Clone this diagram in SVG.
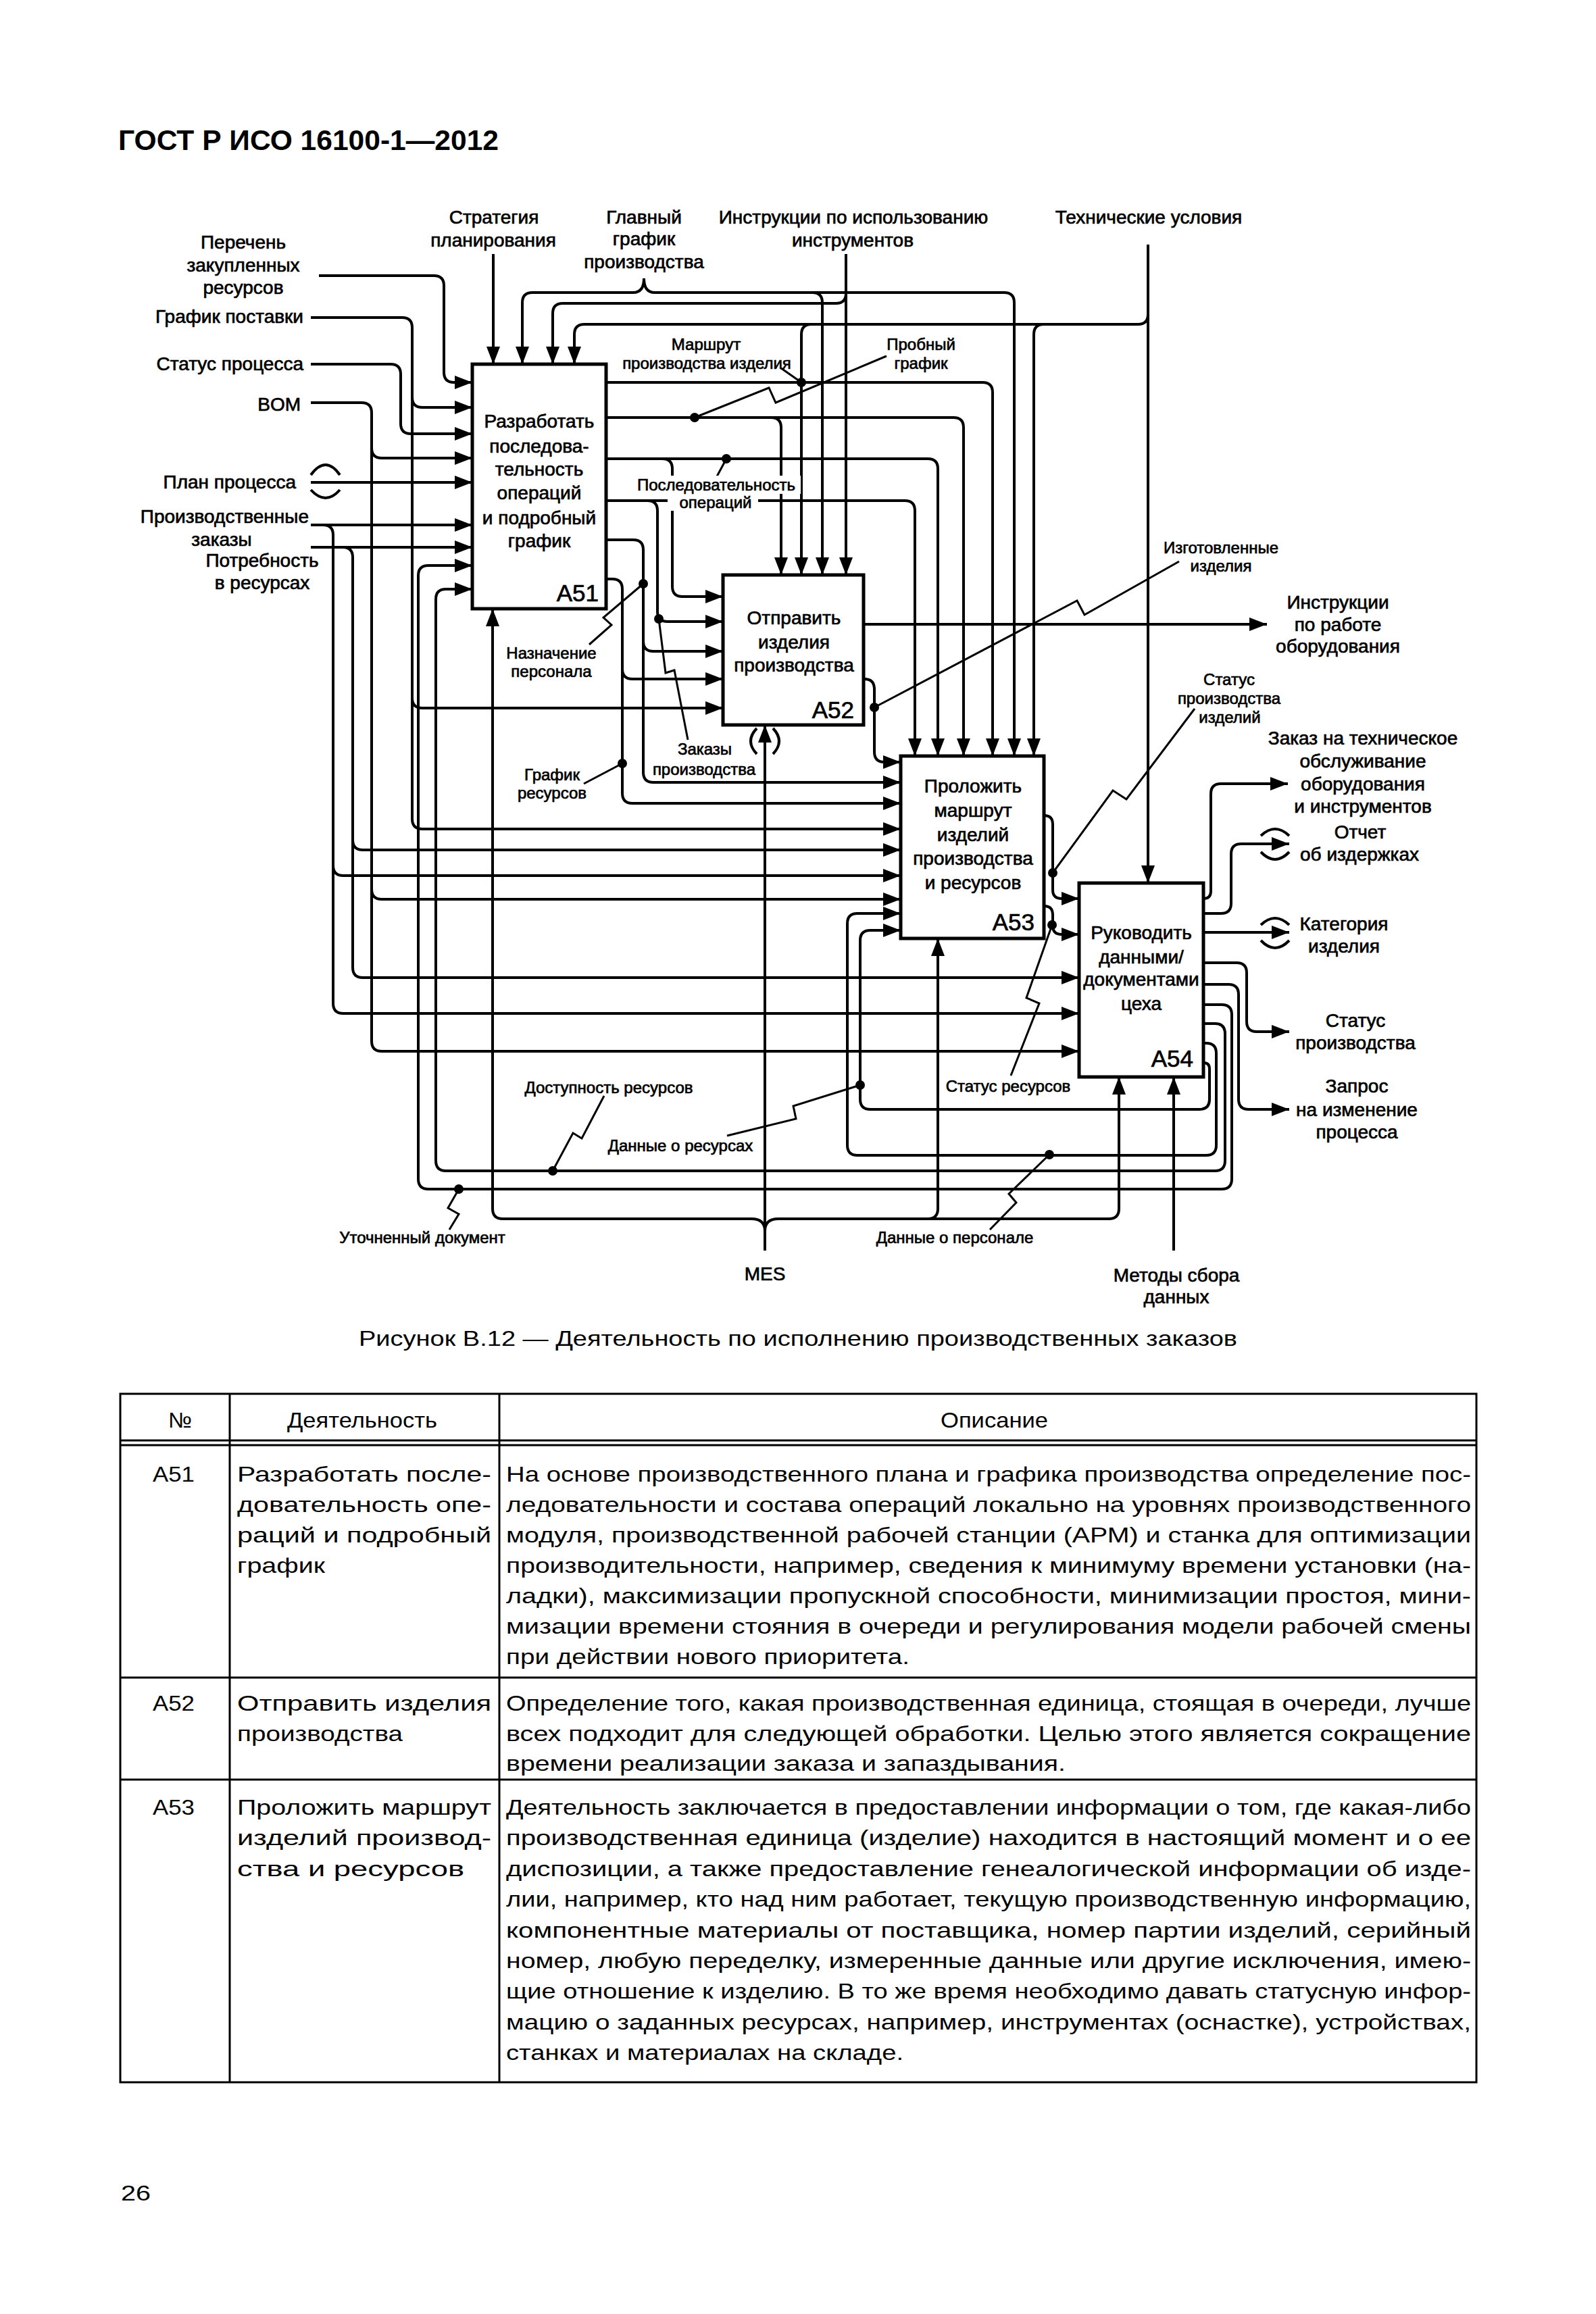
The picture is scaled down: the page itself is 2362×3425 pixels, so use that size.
<svg xmlns="http://www.w3.org/2000/svg" width="2362" height="3425" viewBox="0 0 2362 3425">
<style>
.ln{fill:none;stroke:#000;stroke-width:4}
.ar{marker-end:url(#ah)}
.ld{fill:none;stroke:#000;stroke-width:3}
.box{fill:#fff;stroke:#000;stroke-width:5}
.t{font-family:"Liberation Sans",Arial,sans-serif;fill:#000}
.d{stroke:#000;stroke-width:0.7}
.big{font-size:28px}
.sm{font-size:24px}
.id{font-size:35px}
.tt{font-size:32px}
.c{text-anchor:middle}
.e{text-anchor:end}
.tl{fill:none;stroke:#000;stroke-width:3}
</style>
<defs>
<marker id="ah" markerUnits="userSpaceOnUse" markerWidth="26" markerHeight="20" refX="26" refY="10" orient="auto" viewBox="0 0 26 20"><path d="M0,0 L26,10 L0,20 z" fill="#000"/></marker>
</defs>
<rect x="0" y="0" width="2362" height="3425" fill="#fff"/>
<text class="t" x="175" y="222" font-size="42" font-weight="bold" textLength="563" lengthAdjust="spacingAndGlyphs">ГОСТ Р ИСО 16100-1—2012</text>

<g id="connectors">
<path class="ln ar" d="M472,408 H642 Q657,408 657,423 V551 Q657,566 672,566 H699"/>
<path class="ln ar" d="M460,470 H595 Q610,470 610,485 V588 Q610,603 625,603 H699"/>
<path class="ln ar" d="M610,588 V1033 Q610,1048 625,1048 H1070"/>
<path class="ln ar" d="M610,1033 V1212 Q610,1227 625,1227 H1333"/>
<path class="ln ar" d="M460,539 H578 Q593,539 593,554 V627 Q593,642 608,642 H699"/>
<path class="ln ar" d="M460,596 H535 Q550,596 550,611 V663 Q550,678 565,678 H699"/>
<path class="ln ar" d="M550,663 V1316 Q550,1331 565,1331 H1333"/>
<path class="ln ar" d="M550,1316 V1541 Q550,1556 565,1556 H1597"/>
<path class="ln ar" d="M460,714 H699"/>
<path class="ln ar" d="M460,777 H699"/>
<path class="ln ar" d="M478,777 Q493,777 493,792 V1281 Q493,1296 508,1296 H1333"/>
<path class="ln ar" d="M493,1281 V1485 Q493,1500 508,1500 H1597"/>
<path class="ln ar" d="M460,810 H699"/>
<path class="ln ar" d="M507,810 Q522,810 522,825 V1243 Q522,1258 537,1258 H1333"/>
<path class="ln ar" d="M522,1243 V1432 Q522,1447 537,1447 H1597"/>
<path class="ln ar" d="M1781,1487 H1808 Q1823,1487 1823,1502 V1745 Q1823,1760 1808,1760 H634 Q619,1760 619,1745 V852 Q619,837 634,837 H699"/>
<path class="ln ar" d="M1781,1515 H1798 Q1813,1515 1813,1530 V1718 Q1813,1733 1798,1733 H660 Q645,1733 645,1718 V887 Q645,872 660,872 H699"/>
<path class="ln ar" d="M730,376 V539"/>
<path class="ln ar" d="M937,433 H788 Q773,433 773,448 V539"/>
<path class="ln ar" d="M969,433 H1202 Q1217,433 1217,448 V851"/>
<path class="ln ar" d="M1202,433 H1486 Q1501,433 1501,448 V1119"/>
<path class="ln" d="M937,433 Q953,433 953,412 Q953,433 969,433"/>
<path class="ln ar" d="M1252,376 V851"/>
<path class="ln ar" d="M1252,434 Q1252,449 1237,449 H833 Q818,449 818,464 V539"/>
<path class="ln ar" d="M1699,362 V1307"/>
<path class="ln ar" d="M1699,465 Q1699,480 1684,480 H865 Q850,480 850,495 V539"/>
<path class="ln ar" d="M1545,480 Q1530,480 1530,495 V1119"/>
<path class="ln ar" d="M1201,480 Q1186,480 1186,495 V851"/>
<path class="ln ar" d="M897,566 H1454 Q1469,566 1469,581 V1119"/>
<path class="ln ar" d="M897,618 H1411 Q1426,618 1426,633 V1119"/>
<path class="ln ar" d="M1141,618 Q1156,618 1156,633 V851"/>
<path class="ln ar" d="M897,679 H1373 Q1388,679 1388,694 V1119"/>
<path class="ln ar" d="M980,679 Q995,679 995,694 V868 Q995,883 1010,883 H1070"/>
<path class="ln ar" d="M897,741 H1339 Q1354,741 1354,756 V1119"/>
<path class="ln ar" d="M958,741 Q973,741 973,756 V905 Q973,920 988,920 H1070"/>
<path class="ln ar" d="M897,799 H937 Q952,799 952,814 V949 Q952,964 967,964 H1070"/>
<path class="ln ar" d="M952,949 V1143 Q952,1158 967,1158 H1333"/>
<path class="ln ar" d="M897,857 H906 Q921,857 921,872 V990 Q921,1005 936,1005 H1070"/>
<path class="ln ar" d="M921,990 V1174 Q921,1189 936,1189 H1333"/>
<path class="ln ar" d="M1278,924 H1875"/>
<path class="ln ar" d="M1278,1005 H1279 Q1294,1005 1294,1020 V1113 Q1294,1128 1309,1128 H1333"/>
<path class="ln ar" d="M1545,1207 Q1558,1207 1558,1220 V1317 Q1558,1330 1571,1330 H1597"/>
<path class="ln ar" d="M1545,1341 Q1558,1341 1558,1354 V1370 Q1558,1383 1571,1383 H1597"/>
<path class="ln ar" d="M1781,1330 Q1792,1330 1792,1319 V1175 Q1792,1160 1807,1160 H1906"/>
<path class="ln ar" d="M1781,1352 H1807 Q1822,1352 1822,1337 V1264 Q1822,1249 1837,1249 H1908"/>
<path class="ln ar" d="M1781,1380 H1908"/>
<path class="ln ar" d="M1781,1425 H1830 Q1845,1425 1845,1440 V1512 Q1845,1527 1860,1527 H1908"/>
<path class="ln ar" d="M1781,1457 H1818 Q1833,1457 1833,1472 V1627 Q1833,1642 1848,1642 H1908"/>
<path class="ln ar" d="M1781,1544 H1785 Q1800,1544 1800,1559 V1695 Q1800,1710 1785,1710 H1269 Q1254,1710 1254,1695 V1367 Q1254,1352 1269,1352 H1333"/>
<path class="ln ar" d="M1781,1573 Q1790,1573 1790,1582 V1627 Q1790,1642 1775,1642 H1288 Q1273,1642 1273,1627 V1392 Q1273,1377 1288,1377 H1333"/>
<path class="ln ar" d="M1132,1851 V1073"/>
<path class="ln ar" d="M1112,1804 H744 Q729,1804 729,1789 V901"/>
<path class="ln ar" d="M1152,1804 H1641 Q1656,1804 1656,1789 V1594"/>
<path class="ln ar" d="M1373,1804 Q1388,1804 1388,1789 V1389"/>
<path class="ln" d="M1112,1804 Q1132,1804 1132,1822 Q1132,1804 1152,1804"/>
<path class="ln ar" d="M1737,1851 V1594"/>
<!-- tunnels -->
<path class="ln" d="M460,703 Q482,673 503,703 M460,725 Q482,749 503,725"/>
<path class="ln" d="M1120,1078 Q1102,1097 1120,1116 M1144,1078 Q1162,1097 1144,1116"/>
<path class="ln" d="M1866,1237 Q1887,1217 1908,1237 M1866,1261 Q1887,1283 1908,1261"/>
<path class="ln" d="M1866,1369 Q1887,1349 1908,1369 M1866,1392 Q1887,1414 1908,1392"/>
<!-- leaders -->
<path class="ld" d="M1156,545 L1186,566"/>
<path class="ld" d="M1312,527 L1148,596 L1138,574 L1028,618"/>
<path class="ld" d="M1075,679 L1061,705"/>
<path class="ld" d="M872,954 L905,925 L893,914 L952,864"/>
<path class="ld" d="M864,1160 L921,1130"/>
<path class="ld" d="M975,916 L985,996 L998,992 L1018,1095"/>
<path class="ld" d="M1294,1047 L1594,889 L1605,910 L1745,831"/>
<path class="ld" d="M1768,1049 L1667,1183 L1647,1170 L1558,1292"/>
<path class="ld" d="M1557,1369 L1519,1477 L1538,1485 L1496,1592"/>
<path class="ld" d="M1273,1606 L1174,1637 L1178,1656 L1076,1681"/>
<path class="ld" d="M1553,1709 L1493,1767 L1504,1780 L1465,1820"/>
<path class="ld" d="M818,1733 L848,1677 L861,1685 L894,1622"/>
<path class="ld" d="M679,1760 L663,1788 L679,1797 L665,1820"/>
<g fill="#000">
<circle cx="1186" cy="566" r="7"/><circle cx="1028" cy="618" r="7"/><circle cx="1075" cy="679" r="7"/>
<circle cx="952" cy="864" r="7"/><circle cx="921" cy="1130" r="7"/><circle cx="975" cy="916" r="7"/>
<circle cx="1294" cy="1047" r="7"/><circle cx="1558" cy="1292" r="7"/><circle cx="1557" cy="1369" r="7"/>
<circle cx="1273" cy="1606" r="7"/><circle cx="1553" cy="1709" r="7"/><circle cx="818" cy="1733" r="7"/>
<circle cx="679" cy="1760" r="7"/>
</g>
</g>

<g id="A51">
<rect class="box" x="699" y="539" width="198" height="362"/>
<text class="t d big c" x="798" y="633">Разработать</text>
<text class="t d big c" x="798" y="670">последова-</text>
<text class="t d big c" x="798" y="704">тельность</text>
<text class="t d big c" x="798" y="739">операций</text>
<text class="t d big c" x="798" y="776">и подробный</text>
<text class="t d big c" x="798" y="810">график</text>
<text class="t d id e" x="886" y="890">A51</text>
</g>
<g id="A52">
<rect class="box" x="1070" y="851" width="208" height="222"/>
<text class="t d big c" x="1175" y="924">Отправить</text>
<text class="t d big c" x="1175" y="960">изделия</text>
<text class="t d big c" x="1175" y="994">производства</text>
<text class="t d id e" x="1264" y="1063">A52</text>
</g>
<g id="A53">
<rect class="box" x="1333" y="1119" width="212" height="270"/>
<text class="t d big c" x="1440" y="1173">Проложить</text>
<text class="t d big c" x="1440" y="1209">маршрут</text>
<text class="t d big c" x="1440" y="1245">изделий</text>
<text class="t d big c" x="1440" y="1280">производства</text>
<text class="t d big c" x="1440" y="1316">и ресурсов</text>
<text class="t d id e" x="1531" y="1377">A53</text>
</g>
<g id="A54">
<rect class="box" x="1597" y="1307" width="184" height="287"/>
<text class="t d big c" x="1689" y="1390">Руководить</text>
<text class="t d big c" x="1689" y="1426">данными/</text>
<text class="t d big c" x="1689" y="1459">документами</text>
<text class="t d big c" x="1689" y="1495">цеха</text>
<text class="t d id e" x="1766" y="1579">A54</text>
</g>

<g id="labels">
<rect x="937" y="704" width="248" height="27" fill="#fff"/>
<rect x="988" y="731" width="134" height="25" fill="#fff"/>
<text class="t d big c" x="731" y="331">Стратегия</text>
<text class="t d big c" x="730" y="365">планирования</text>
<text class="t d big c" x="953" y="331">Главный</text>
<text class="t d big c" x="953" y="363">график</text>
<text class="t d big c" x="953" y="397">производства</text>
<text class="t d big c" x="1263" y="331">Инструкции по использованию</text>
<text class="t d big c" x="1262" y="365">инструментов</text>
<text class="t d big c" x="1700" y="331">Технические условия</text>
<text class="t d big c" x="360" y="368">Перечень</text>
<text class="t d big c" x="360" y="402">закупленных</text>
<text class="t d big c" x="360" y="435">ресурсов</text>
<text class="t d big e" x="449" y="478">График поставки</text>
<text class="t d big e" x="449" y="548">Статус процесса</text>
<text class="t d big e" x="445" y="608">BOM</text>
<text class="t d big e" x="438" y="723">План процесса</text>
<text class="t d big e" x="457" y="774">Производственные</text>
<text class="t d big c" x="328" y="808">заказы</text>
<text class="t d big c" x="388" y="839">Потребность</text>
<text class="t d big c" x="388" y="872">в ресурсах</text>
<text class="t d big c" x="1980" y="901">Инструкции</text>
<text class="t d big c" x="1980" y="934">по работе</text>
<text class="t d big c" x="1980" y="966">оборудования</text>
<text class="t d big c" x="2017" y="1102">Заказ на техническое</text>
<text class="t d big c" x="2017" y="1136">обслуживание</text>
<text class="t d big c" x="2017" y="1170">оборудования</text>
<text class="t d big c" x="2017" y="1203">и инструментов</text>
<text class="t d big c" x="2013" y="1241">Отчет</text>
<text class="t d big c" x="2012" y="1274">об издержках</text>
<text class="t d big c" x="1989" y="1377">Категория</text>
<text class="t d big c" x="1989" y="1410">изделия</text>
<text class="t d big c" x="2006" y="1520">Статус</text>
<text class="t d big c" x="2006" y="1553">производства</text>
<text class="t d big c" x="2008" y="1617">Запрос</text>
<text class="t d big c" x="2008" y="1652">на изменение</text>
<text class="t d big c" x="2008" y="1685">процесса</text>
<text class="t d big c" x="1132" y="1895">MES</text>
<text class="t d big c" x="1741" y="1897">Методы сбора</text>
<text class="t d big c" x="1741" y="1929">данных</text>
<text class="t d sm c" x="1045" y="518">Маршрут</text>
<text class="t d sm c" x="1046" y="546">производства изделия</text>
<text class="t d sm c" x="1363" y="518">Пробный</text>
<text class="t d sm c" x="1363" y="546">график</text>
<text class="t d sm c" x="1060" y="726">Последовательность</text>
<text class="t d sm c" x="1059" y="752">операций</text>
<text class="t d sm c" x="1807" y="819">Изготовленные</text>
<text class="t d sm c" x="1807" y="846">изделия</text>
<text class="t d sm c" x="1819" y="1014">Статус</text>
<text class="t d sm c" x="1819" y="1042">производства</text>
<text class="t d sm c" x="1820" y="1070">изделий</text>
<text class="t d sm c" x="816" y="975">Назначение</text>
<text class="t d sm c" x="816" y="1002">персонала</text>
<text class="t d sm c" x="817" y="1155">График</text>
<text class="t d sm c" x="817" y="1182">ресурсов</text>
<text class="t d sm c" x="1043" y="1117">Заказы</text>
<text class="t d sm c" x="1042" y="1147">производства</text>
<text class="t d sm c" x="901" y="1618">Доступность ресурсов</text>
<text class="t d sm c" x="1007" y="1704">Данные о ресурсах</text>
<text class="t d sm c" x="625" y="1840">Уточненный документ</text>
<text class="t d sm c" x="1413" y="1840">Данные о персонале</text>
<text class="t d sm c" x="1492" y="1616">Статус ресурсов</text>
</g>

<text class="t tt" x="531" y="1992" textLength="1300" lengthAdjust="spacingAndGlyphs">Рисунок В.12 — Деятельность по исполнению производственных заказов</text>

<g id="table">
<rect class="tl" x="178" y="2063" width="2007" height="1019"/>
<path class="tl" d="M340,2063 V3082 M739,2063 V3082 M178,2132 H2185 M178,2139 H2185 M178,2483 H2185 M178,2634 H2185"/>
<g class="t tt">
<text x="249" y="2113" textLength="35" lengthAdjust="spacingAndGlyphs">№</text>
<text x="425" y="2113" textLength="222" lengthAdjust="spacingAndGlyphs">Деятельность</text>
<text x="1392" y="2113" textLength="159" lengthAdjust="spacingAndGlyphs">Описание</text>

<text x="226" y="2193" textLength="62" lengthAdjust="spacingAndGlyphs">A51</text>
<text x="351" y="2193" textLength="376" lengthAdjust="spacingAndGlyphs">Разработать после-</text>
<text x="351" y="2238" textLength="376" lengthAdjust="spacingAndGlyphs">довательность опе-</text>
<text x="351" y="2283" textLength="376" lengthAdjust="spacingAndGlyphs">раций и подробный</text>
<text x="351" y="2328" textLength="130" lengthAdjust="spacingAndGlyphs">график</text>
<text x="749" y="2193" textLength="1428" lengthAdjust="spacingAndGlyphs">На основе производственного плана и графика производства определение пос-</text>
<text x="749" y="2238" textLength="1428" lengthAdjust="spacingAndGlyphs">ледовательности и состава операций локально на уровнях производственного</text>
<text x="749" y="2283" textLength="1428" lengthAdjust="spacingAndGlyphs">модуля, производственной рабочей станции (АРМ) и станка для оптимизации</text>
<text x="749" y="2328" textLength="1428" lengthAdjust="spacingAndGlyphs">производительности, например, сведения к минимуму времени установки (на-</text>
<text x="749" y="2373" textLength="1428" lengthAdjust="spacingAndGlyphs">ладки), максимизации пропускной способности, минимизации простоя, мини-</text>
<text x="749" y="2418" textLength="1428" lengthAdjust="spacingAndGlyphs">мизации времени стояния в очереди и регулирования модели рабочей смены</text>
<text x="749" y="2463" textLength="597" lengthAdjust="spacingAndGlyphs">при действии нового приоритета.</text>

<text x="226" y="2532" textLength="62" lengthAdjust="spacingAndGlyphs">A52</text>
<text x="351" y="2532" textLength="376" lengthAdjust="spacingAndGlyphs">Отправить изделия</text>
<text x="351" y="2577" textLength="245" lengthAdjust="spacingAndGlyphs">производства</text>
<text x="749" y="2532" textLength="1428" lengthAdjust="spacingAndGlyphs">Определение того, какая производственная единица, стоящая в очереди, лучше</text>
<text x="749" y="2577" textLength="1428" lengthAdjust="spacingAndGlyphs">всех подходит для следующей обработки. Целью этого является сокращение</text>
<text x="749" y="2621" textLength="828" lengthAdjust="spacingAndGlyphs">времени реализации заказа и запаздывания.</text>

<text x="226" y="2686" textLength="62" lengthAdjust="spacingAndGlyphs">A53</text>
<text x="351" y="2686" textLength="376" lengthAdjust="spacingAndGlyphs">Проложить маршрут</text>
<text x="351" y="2731" textLength="376" lengthAdjust="spacingAndGlyphs">изделий производ-</text>
<text x="351" y="2777" textLength="336" lengthAdjust="spacingAndGlyphs">ства и ресурсов</text>
<text x="749" y="2686" textLength="1428" lengthAdjust="spacingAndGlyphs">Деятельность заключается в предоставлении информации о том, где какая-либо</text>
<text x="749" y="2731" textLength="1428" lengthAdjust="spacingAndGlyphs">производственная единица (изделие) находится в настоящий момент и о ее</text>
<text x="749" y="2777" textLength="1428" lengthAdjust="spacingAndGlyphs">диспозиции, а также предоставление генеалогической информации об изде-</text>
<text x="749" y="2822" textLength="1428" lengthAdjust="spacingAndGlyphs">лии, например, кто над ним работает, текущую производственную информацию,</text>
<text x="749" y="2868" textLength="1428" lengthAdjust="spacingAndGlyphs">компонентные материалы от поставщика, номер партии изделий, серийный</text>
<text x="749" y="2913" textLength="1428" lengthAdjust="spacingAndGlyphs">номер, любую переделку, измеренные данные или другие исключения, имею-</text>
<text x="749" y="2958" textLength="1428" lengthAdjust="spacingAndGlyphs">щие отношение к изделию. В то же время необходимо давать статусную инфор-</text>
<text x="749" y="3004" textLength="1428" lengthAdjust="spacingAndGlyphs">мацию о заданных ресурсах, например, инструментах (оснастке), устройствах,</text>
<text x="749" y="3049" textLength="588" lengthAdjust="spacingAndGlyphs">станках и материалах на складе.</text>
</g>
</g>
<text class="t tt" x="179" y="3257" textLength="44" lengthAdjust="spacingAndGlyphs">26</text>
</svg>
